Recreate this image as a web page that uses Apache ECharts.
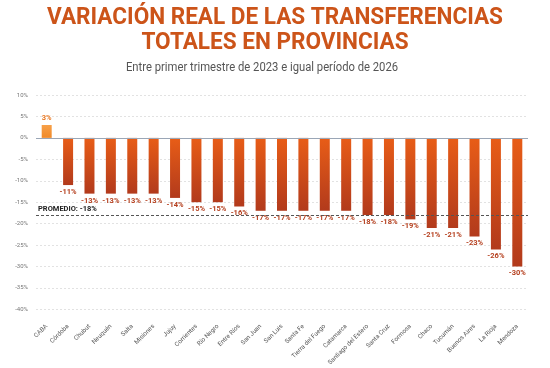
<!DOCTYPE html>
<html>
<head>
<meta charset="utf-8">
<script src="https://cdn.jsdelivr.net/npm/echarts@6/dist/echarts.min.js"></script>
<style>
  html, body { margin: 0; padding: 0; background: #fff; }
  #chart { width: 550px; height: 368px; }
</style>
</head>
<body>
<div id="chart"></div>
<script>
const provinces = ['CABA', 'Córdoba', 'Chubut', 'Neuquén', 'Salta', 'Misiones', 'Jujuy', 'Corrientes',
  'Río Negro', 'Entre Ríos', 'San Juan', 'San Luis', 'Santa Fe', 'Tierra del Fuego', 'Catamarca',
  'Santiago del Estero', 'Santa Cruz', 'Formosa', 'Chaco', 'Tucumán', 'Buenos Aires', 'La Rioja', 'Mendoza'];
const variation = [3, -11, -13, -13, -13, -13, -14, -15, -15, -16, -17, -17, -17, -17, -17, -18, -18, -19, -21, -21, -23, -26, -30];
const average = -18;

const chart = echarts.init(document.getElementById('chart'));

const redGrad = new echarts.graphic.LinearGradient(0, 0, 0, 1, [
  { offset: 0, color: '#e85d17' },
  { offset: 1, color: '#b23a1c' }
]);
const orangeGrad = new echarts.graphic.LinearGradient(0, 0, 0, 1, [
  { offset: 0, color: '#f7a048' },
  { offset: 1, color: '#f08a2a' }
]);

chart.setOption({
  backgroundColor: '#fff',
  animation: false,
  // title drawn as graphic text so it can be squeezed like a condensed face
  graphic: [
    {
      type: 'text',
      x: 275,
      y: 5,
      scaleX: 0.94,
      style: {
        text: 'VARIACIÓN REAL DE LAS TRANSFERENCIAS\nTOTALES EN PROVINCIAS',
        align: 'center',
        verticalAlign: 'top',
        font: 'bold 24px Roboto, sans-serif',
        lineHeight: 25,
        fill: '#cc5419'
      }
    },
    {
      type: 'text',
      x: 262,
      y: 61,
      scaleX: 0.9,
      style: {
        text: 'Entre primer trimestre de 2023 e igual período de 2026',
        align: 'center',
        verticalAlign: 'top',
        font: '12.5px Roboto, sans-serif',
        fill: '#555'
      }
    }
  ],
  grid: { left: 36, right: 22, top: 95, bottom: 58 },
  xAxis: {
    type: 'category',
    data: provinces,
    axisLine: { show: false },
    axisTick: { show: false },
    axisLabel: {
      interval: 0,
      rotate: 45,
      fontSize: 6.3,
      color: '#555',
      fontFamily: 'Roboto, sans-serif',
      margin: 16
    }
  },
  yAxis: {
    type: 'value',
    min: -40,
    max: 10,
    interval: 5,
    axisLine: { show: false },
    axisTick: { show: false },
    axisLabel: {
      formatter: '{value}%',
      fontSize: 6,
      color: '#777',
      fontFamily: 'Roboto, sans-serif',
      margin: 8
    },
    splitLine: { lineStyle: { color: '#e2e2e2', type: [2, 2], width: 1 } }
  },
  series: [{
    type: 'bar',
    data: variation.map((v, i) => ({
      value: v,
      itemStyle: { color: i === 0 ? orangeGrad : redGrad },
      label: {
        position: v >= 0 ? 'top' : 'bottom',
        color: v >= 0 ? '#ea7a25' : '#b5401f'
      }
    })),
    barWidth: 10,
    label: {
      show: true,
      formatter: p => p.value + '%',
      fontSize: 7.5,
      fontWeight: 'bold',
      fontFamily: 'Roboto, sans-serif',
      distance: 3
    },
    markLine: {
      silent: true,
      symbol: 'none',
      data: [
        {
          yAxis: 0,
          lineStyle: { color: '#9aa6b6', type: 'solid', width: 1 },
          label: { show: false }
        },
        {
          yAxis: average,
          lineStyle: { color: '#555', type: [3, 2], width: 1 },
          label: {
            show: true,
            position: 'insideStartTop',
            formatter: 'PROMEDIO: ' + average + '%',
            fontSize: 7.5,
            fontWeight: 'bold',
            color: '#222',
            fontFamily: 'Roboto, sans-serif',
            distance: [2, 2]
          }
        }
      ]
    }
  }]
});
</script>
</body>
</html>
